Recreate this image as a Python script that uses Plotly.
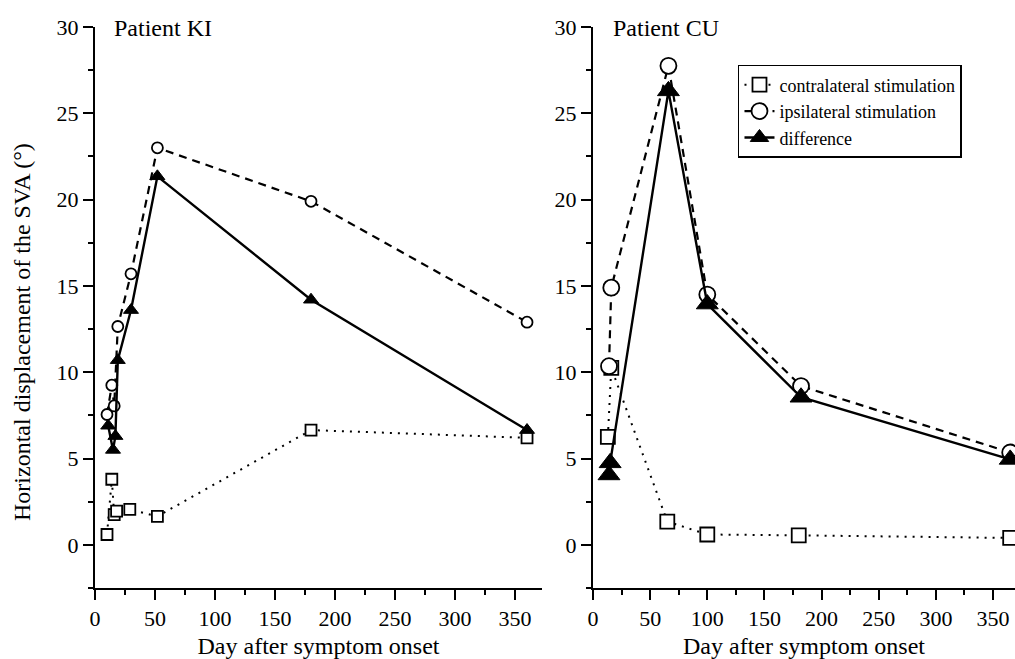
import plotly.graph_objects as go

# ---- Data ----
# Patient KI
ki_contra_days = [10, 14, 16, 18, 29, 52, 180, 360]
ki_contra_vals = [0.6, 3.8, 1.75, 1.95, 2.05, 1.65, 6.65, 6.2]
ki_ipsi_days = [10, 14, 16, 19, 30, 52, 180, 360]
ki_ipsi_vals = [7.55, 9.25, 8.05, 12.65, 15.7, 23.0, 19.9, 12.9]
ki_diff_days = [11, 15, 17, 19, 30, 52, 180, 360]
ki_diff_vals = [6.9, 5.5, 6.3, 10.7, 13.6, 21.35, 14.2, 6.65]

# Patient CU
cu_contra_days = [13, 16, 65, 100, 180, 365]
cu_contra_vals = [6.25, 10.25, 1.35, 0.6, 0.55, 0.4]
cu_ipsi_days = [14, 16, 66, 100, 182, 365]
cu_ipsi_vals = [10.35, 14.9, 27.75, 14.5, 9.2, 5.35]
cu_diff_days = [14, 15, 66, 100, 182, 365]
cu_diff_vals = [4.05, 4.75, 26.3, 13.95, 8.55, 4.95]

series_names = ["contralateral stimulation", "ipsilateral stimulation", "difference"]
x_ticks = [0, 50, 100, 150, 200, 250, 300, 350]
y_ticks = [0, 5, 10, 15, 20, 25, 30]

FONT = "Liberation Serif"
BLACK = "black"

fig = go.Figure()


def add_panel(xa, ya, cd, cv, idays, iv, dd, dv, big, show):
    s_sq = 14 if big else 11
    s_ci = 16 if big else 11
    s_tr = 19 if big else 13
    fig.add_trace(go.Scatter(
        x=cd, y=cv, mode="lines+markers", name=series_names[0],
        line=dict(color=BLACK, width=2, dash="2px,6px"),
        marker=dict(symbol="square", size=s_sq, color="white",
                    line=dict(color=BLACK, width=1.8)),
        xaxis=xa, yaxis=ya, showlegend=show, cliponaxis=False))
    fig.add_trace(go.Scatter(
        x=idays, y=iv, mode="lines+markers", name=series_names[1],
        line=dict(color=BLACK, width=2.2, dash="8px,6px"),
        marker=dict(symbol="circle", size=s_ci, color="white",
                    line=dict(color=BLACK, width=1.8)),
        xaxis=xa, yaxis=ya, showlegend=show, cliponaxis=False))
    fig.add_trace(go.Scatter(
        x=dd, y=dv, mode="lines+markers", name=series_names[2],
        line=dict(color=BLACK, width=2.4),
        marker=dict(symbol="triangle-up", size=s_tr, color=BLACK,
                    line=dict(color=BLACK, width=1)),
        xaxis=xa, yaxis=ya, showlegend=show, cliponaxis=False))


add_panel("x", "y", ki_contra_days, ki_contra_vals, ki_ipsi_days, ki_ipsi_vals,
          ki_diff_days, ki_diff_vals, False, False)
add_panel("x2", "y2", cu_contra_days, cu_contra_vals, cu_ipsi_days, cu_ipsi_vals,
          cu_diff_days, cu_diff_vals, True, True)

xcommon = dict(
    showgrid=False, zeroline=False, showline=True, linecolor=BLACK, linewidth=2,
    ticks="outside", ticklen=10, tickwidth=2, tickcolor=BLACK,
    tickvals=x_ticks, ticktext=[str(v) for v in x_ticks],
    tickfont=dict(family=FONT, size=22, color=BLACK),
    minor=dict(dtick=25, tick0=0, ticks="outside", ticklen=5, tickwidth=2, tickcolor=BLACK),
    title=dict(text="Day after symptom onset", font=dict(family=FONT, size=24, color=BLACK),
               standoff=12),
)
ycommon = dict(
    showgrid=False, zeroline=False, showline=True, linecolor=BLACK, linewidth=2,
    range=[-2.5, 30], ticks="outside", ticklen=10, tickwidth=2, tickcolor=BLACK,
    tickvals=y_ticks, ticktext=[str(v) for v in y_ticks],
    tickfont=dict(family=FONT, size=22, color=BLACK),
    minor=dict(dtick=2.5, tick0=0, ticks="outside", ticklen=5, tickwidth=2, tickcolor=BLACK),
)

W, H = 1015, 659
ML, MT = 95, 27

fig.update_layout(
    width=W, height=H,
    margin=dict(l=ML, r=0, t=MT, b=71),
    paper_bgcolor="white", plot_bgcolor="white",
    font=dict(family=FONT, color=BLACK),
    xaxis=dict(xcommon, domain=[0, 0.4859], range=[0, 372.5], anchor="y"),
    yaxis=dict(ycommon, domain=[0, 1], anchor="x"),
    xaxis2=dict(xcommon, domain=[0.5413, 1], range=[0, 369.2], anchor="y2"),
    yaxis2=dict(ycommon, domain=[0, 1], anchor="x2"),
    legend=dict(x=0.6989, y=0.9323, xanchor="left", yanchor="top",
                bordercolor=BLACK, borderwidth=1.5, bgcolor="white",
                font=dict(family=FONT, size=18, color=BLACK),
                tracegroupgap=0, itemwidth=30),
    annotations=[
        dict(text="Patient KI", x=0.0185, y=0.998, xref="paper", yref="paper",
             xanchor="left", yanchor="middle", showarrow=False,
             font=dict(family=FONT, size=24, color=BLACK)),
        dict(text="Patient CU", x=0.5609, y=0.998, xref="paper", yref="paper",
             xanchor="left", yanchor="middle", showarrow=False,
             font=dict(family=FONT, size=24, color=BLACK)),
        dict(text="Horizontal displacement of the SVA (°)",
             x=(22 - ML) / (W - ML), y=1 - (332 - MT) / (H - MT - 71),
             xref="paper", yref="paper", xanchor="center", yanchor="middle",
             textangle=-90, showarrow=False,
             font=dict(family=FONT, size=24, color=BLACK)),
    ],
)

fig.write_html("out.html", config={"displayModeBar": False},
               post_script="document.body.style.margin='0';document.body.style.overflow='hidden';")
